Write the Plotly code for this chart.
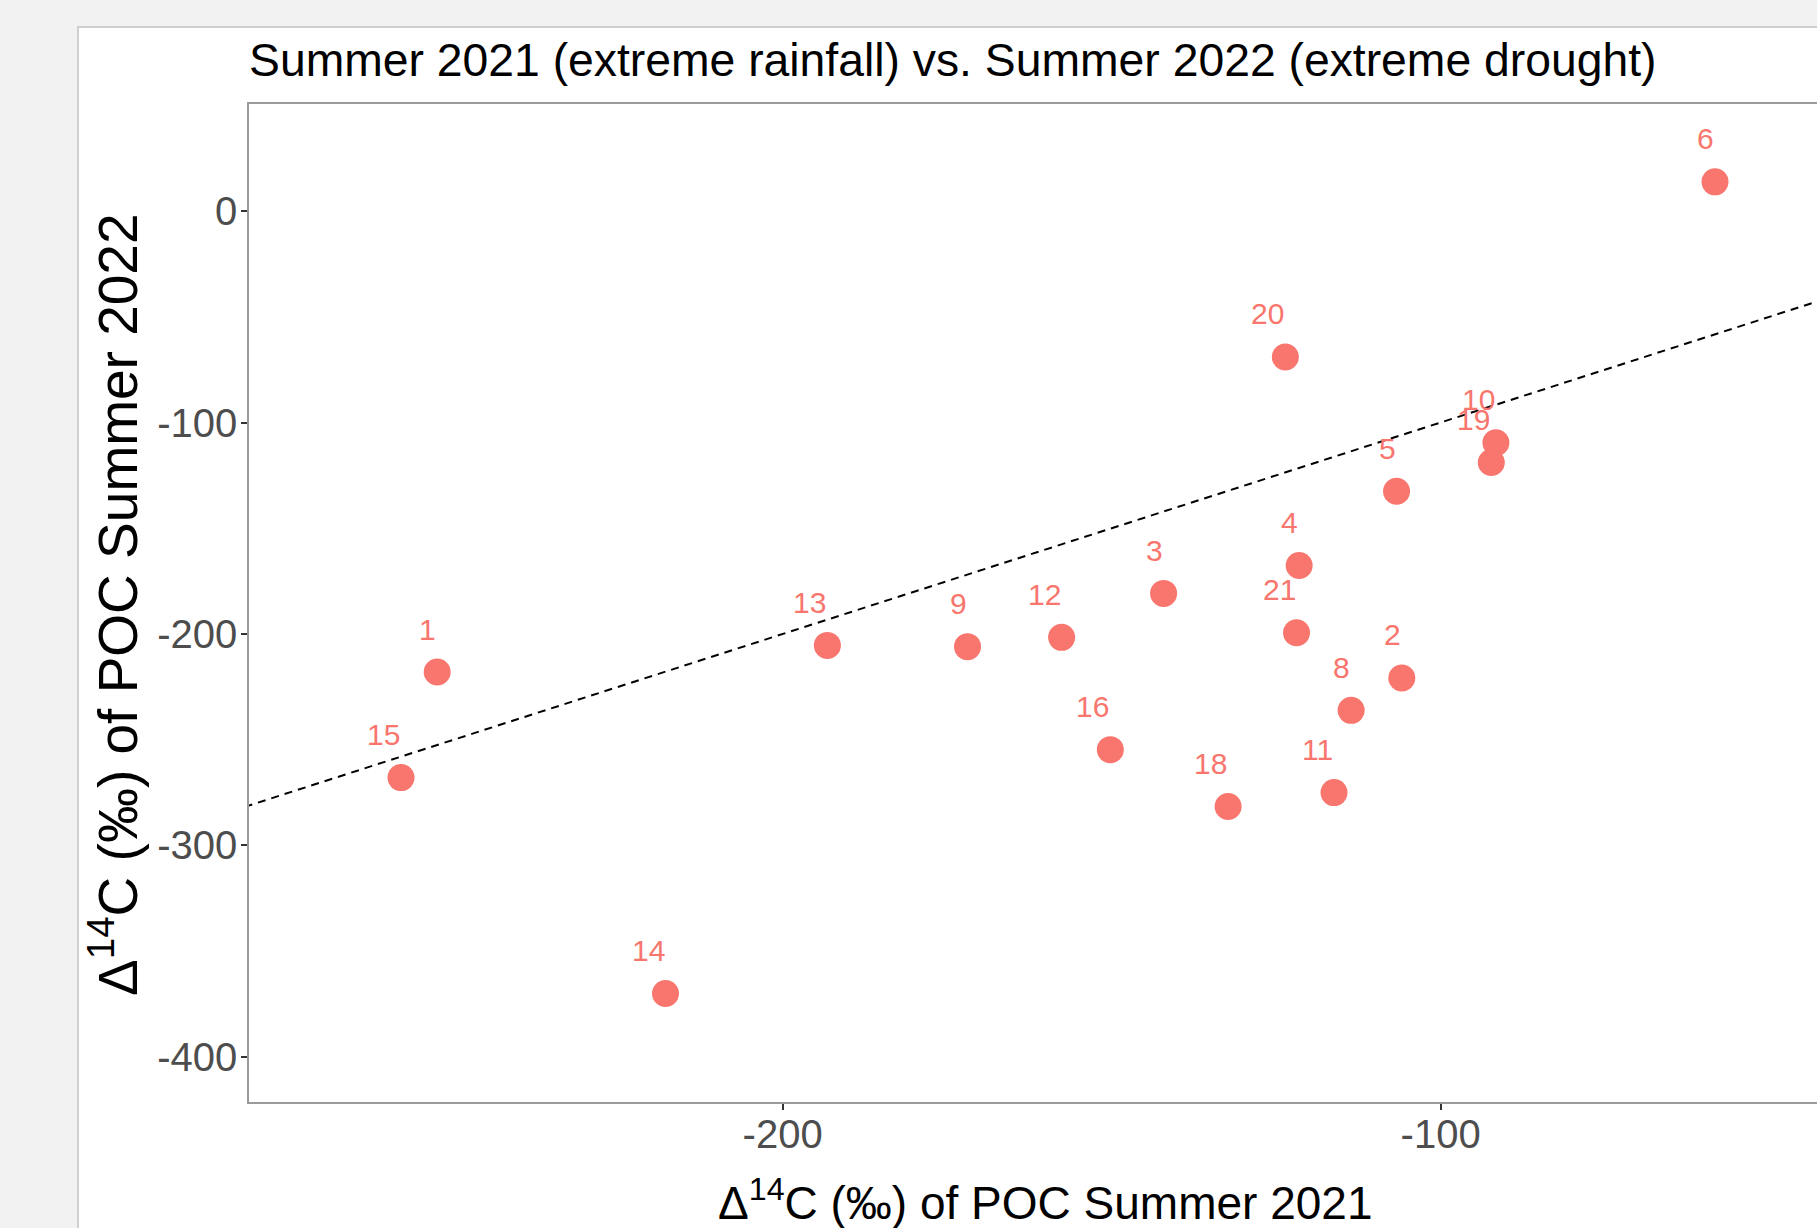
import plotly.graph_objects as go

# ---- data ----
site_labels = ["1", "15", "14", "13", "9", "12", "16", "3", "18", "20",
               "4", "21", "11", "8", "2", "5", "10", "19", "6"]
poc_2021 = [-252.5, -258.0, -217.8, -193.2, -171.9, -157.6, -150.2, -142.1, -132.3, -123.6,
            -121.5, -121.9, -116.2, -113.6, -105.9, -106.7, -91.6, -92.3, -58.3]
poc_2022 = [-218.0, -267.9, -370.0, -205.4, -206.0, -201.6, -254.7, -180.8, -281.6, -69.0,
            -167.6, -199.4, -275.0, -236.1, -220.8, -132.5, -109.6, -118.9, 13.8]
ref_slope = 1.0
ref_intercept = 0.0
ref_x = [-300.0, -30.0]
x_ticks = [-200, -100]
y_ticks = [0, -100, -200, -300, -400]
x_range = [-281.1, -42.8]
y_range = [-421.3, 50.6]

title_text = "Summer 2021 (extreme rainfall) vs. Summer 2022 (extreme drought)"
x_title = "Δ<sup>14</sup>C (‰) of POC Summer 2021"
y_title = "Δ<sup>14</sup>C (‰) of POC Summer 2022"

FONT = "Liberation Sans, Arial, sans-serif"
PT = "#F8766D"

W, H = 1817, 1228
L, R, T, B = 249, 0, 104, 126
pw = W - L - R
ph = H - T - B

def px_to_paper_x(px):
    return (px - L) / pw

def px_to_paper_y(py):
    return (H - B - py) / ph

fig = go.Figure()

ref_y = [ref_slope * v + ref_intercept for v in ref_x]
fig.add_trace(go.Scatter(x=ref_x, y=ref_y, mode="lines",
                         line=dict(color="black", width=2, dash="8px,6px"),
                         hoverinfo="skip", showlegend=False))

fig.add_trace(go.Scatter(x=poc_2021, y=poc_2022, mode="markers",
                         marker=dict(color=PT, size=27, line=dict(width=0)),
                         text=site_labels, showlegend=False))

annotations = []
for xv, yv, lab in zip(poc_2021, poc_2022, site_labels):
    annotations.append(dict(x=xv, y=yv, xref="x", yref="y", text=lab, showarrow=False,
                            xanchor="right", yanchor="middle", yshift=43, xshift=1,
                            font=dict(family=FONT, size=30, color=PT)))

annotations.append(dict(x=px_to_paper_x(247), y=px_to_paper_y(60), xref="paper", yref="paper",
                        text=title_text, showarrow=False, xanchor="left", yanchor="middle",
                        font=dict(family=FONT, size=46.3, color="black")))
annotations.append(dict(x=px_to_paper_x(1045), y=px_to_paper_y(1200), xref="paper", yref="paper",
                        text=x_title, showarrow=False, xanchor="center", yanchor="middle",
                        font=dict(family=FONT, size=46, color="black")))
annotations.append(dict(x=px_to_paper_x(114), y=px_to_paper_y(605), xref="paper", yref="paper",
                        text=y_title, showarrow=False, xanchor="center", yanchor="middle",
                        textangle=-90,
                        font=dict(family=FONT, size=55, color="black")))

shapes = [dict(type="rect", xref="paper", yref="paper", layer="below",
               x0=px_to_paper_x(78), x1=px_to_paper_x(W + 20),
               y0=px_to_paper_y(H + 20), y1=px_to_paper_y(27),
               fillcolor="white", line=dict(color="#cfcfcf", width=2))]

fig.update_layout(
    width=W, height=H,
    margin=dict(l=L, r=R, t=T, b=B, pad=0),
    paper_bgcolor="#f2f2f2",
    plot_bgcolor="white",
    annotations=annotations,
    shapes=shapes,
    showlegend=False,
)
fig.update_xaxes(range=x_range, tickvals=x_ticks, ticktext=[str(v) for v in x_ticks],
                 showgrid=False, zeroline=False, showline=True, mirror=True,
                 linecolor="#9a9a9a", linewidth=1.5,
                 ticks="outside", ticklen=6, tickwidth=1.5, tickcolor="#333333",
                 ticklabelstandoff=-10,
                 tickfont=dict(family=FONT, size=40, color="#4d4d4d"))
fig.update_yaxes(range=y_range, tickvals=y_ticks, ticktext=[str(v) for v in y_ticks],
                 showgrid=False, zeroline=False, showline=True, mirror=False,
                 linecolor="#9a9a9a", linewidth=1.5,
                 ticks="outside", ticklen=6, tickwidth=1.5, tickcolor="#333333",
                 ticklabelstandoff=-4,
                 tickfont=dict(family=FONT, size=40, color="#4d4d4d"))

fig.write_html("out.html")
